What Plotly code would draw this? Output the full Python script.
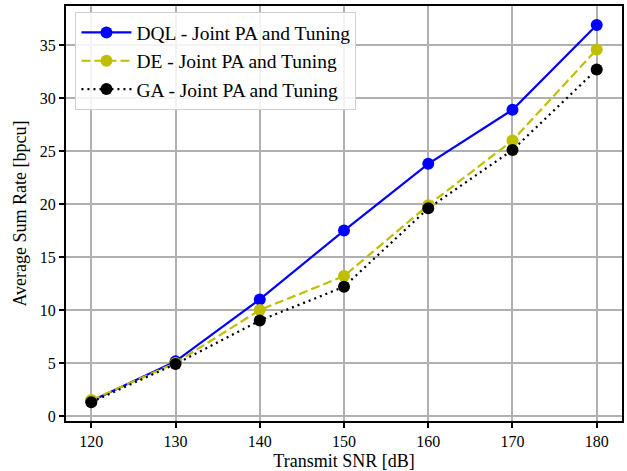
import plotly.graph_objects as go

snr = [120, 130, 140, 150, 160, 170, 180]
dql = [1.4, 5.15, 11.0, 17.5, 23.8, 28.9, 36.9]
de = [1.5, 5.0, 10.0, 13.2, 19.9, 26.0, 34.6]
ga = [1.3, 4.9, 9.0, 12.2, 19.6, 25.1, 32.7]
yticks = [0, 5, 10, 15, 20, 25, 30, 35]

names = ["DQL - Joint PA and Tuning", "DE - Joint PA and Tuning", "GA - Joint PA and Tuning"]
FONT = "Liberation Serif"

fig = go.Figure()
fig.add_trace(go.Scatter(x=snr, y=dql, name=names[0], mode="lines+markers",
                         line=dict(color="#0000ff", width=2.2),
                         marker=dict(color="#0000ff", size=12)))
fig.add_trace(go.Scatter(x=snr, y=de, name=names[1], mode="lines+markers",
                         line=dict(color="#bfbf00", width=2.2, dash="9px,4px"),
                         marker=dict(color="#bfbf00", size=12)))
fig.add_trace(go.Scatter(x=snr, y=ga, name=names[2], mode="lines+markers",
                         line=dict(color="black", width=2.2, dash="2px,4px"),
                         marker=dict(color="black", size=12)))

axis_common = dict(showline=True, linecolor="black", linewidth=2, mirror=True,
                   ticks="outside", ticklen=5, tickwidth=1.5, tickcolor="black",
                   showgrid=True, gridcolor="#b0b0b0", gridwidth=1.5, zeroline=False,
                   automargin=False,
                   tickfont=dict(family=FONT, size=16, color="black"))

fig.update_layout(
    width=627, height=471,
    margin=dict(l=66, r=5, t=6, b=50),
    paper_bgcolor="white", plot_bgcolor="white",
    font=dict(family=FONT, size=16, color="black"),
    xaxis=dict(range=[117, 183], tickvals=snr,
               title=dict(text="Transmit SNR [dB]", font=dict(family=FONT, size=18), standoff=6),
               **axis_common),
    yaxis=dict(range=[-0.48, 38.7], tickvals=yticks,
               title=dict(text="Average Sum Rate [bpcu]", font=dict(family=FONT, size=18), standoff=8),
               **axis_common),
    legend=dict(x=0.017, y=0.985, xanchor="left", yanchor="top",
                bgcolor="rgba(255,255,255,0.85)", bordercolor="#d0d0d0", borderwidth=1,
                font=dict(family=FONT, size=19.5, color="black"), tracegroupgap=0,
                itemwidth=50),
    showlegend=True,
)

fig.write_html("out.html", config={"displayModeBar": False},
               post_script="document.body.style.margin='0';")
